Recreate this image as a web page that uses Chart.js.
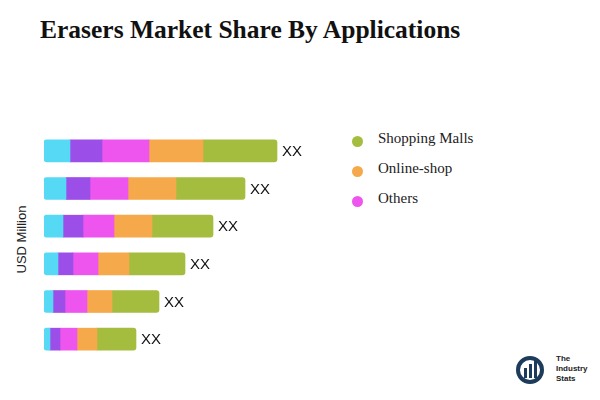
<!DOCTYPE html>
<html><head><meta charset="utf-8">
<script src="https://cdn.jsdelivr.net/npm/chart.js@4"></script>
<style>
body{margin:0;width:600px;height:400px;background:#fff;position:relative;font-family:"Liberation Serif",serif;overflow:hidden}
#title{position:absolute;left:40px;top:15px;font-size:25.5px;font-weight:bold;color:#111}
#yt{position:absolute;left:-14px;top:232px;transform:rotate(-90deg);font-family:"Liberation Sans",sans-serif;font-size:13px;color:#222;width:70px;text-align:center}
#cw{position:absolute;left:44px;top:132px;width:300px;height:226px}
.lg{position:absolute;left:352px;font-size:15px;color:#222}
.dot{position:absolute;left:0;top:6px;width:11px;height:11px;border-radius:50%}
.lg span{position:absolute;left:26px;top:0;white-space:nowrap}
#logo{position:absolute;left:516px;top:352px;font-family:"Liberation Sans",sans-serif;font-size:8px;font-weight:bold;line-height:10px;color:#222}
</style></head><body>
<div id="title">Erasers Market Share By Applications</div>
<div id="yt">USD Million</div>
<div id="cw"><canvas id="c"></canvas></div>
<div class="lg" style="top:130px"><div class="dot" style="background:#a4bd3f"></div><span>Shopping Malls</span></div>
<div class="lg" style="top:160px"><div class="dot" style="background:#f6a94a"></div><span>Online-shop</span></div>
<div class="lg" style="top:190px"><div class="dot" style="background:#ee55ee"></div><span>Others</span></div>
<div id="logo"><svg width="30" height="36" style="position:absolute;left:0;top:0"><circle cx="14" cy="18" r="12" fill="none" stroke="#1d3b5a" stroke-width="4"/><rect x="8" y="16" width="3" height="10" fill="#1d3b5a"/><rect x="13" y="12" width="3" height="14" fill="#1d3b5a"/><rect x="18" y="8" width="3" height="18" fill="#1d3b5a"/></svg><div style="position:absolute;left:40px;top:2px">The<br>Industry<br>Stats</div></div>
<script>
const categories=["A","B","C","D","E","F"];
const seriesNames=["S1","S2","Others","Online-shop","Shopping Malls"];
const colors=["#55d9f5","#9b4ee8","#ee55ee","#f6a94a","#a4bd3f"];
const s1=[26,22,19,14,9,6];
const s2=[32,24,20,15,12,10];
const others=[47,38,31,25,22,17];
const online=[54,48,38,31,25,20];
const malls=[74,69,61,56,47,39];
const valueLabels=["XX","XX","XX","XX","XX","XX"];
const all=[s1,s2,others,online,malls];
const endLabel={id:"endLabel",afterDatasetsDraw(ch){const m=ch.getDatasetMeta(4);const ctx=ch.ctx;ctx.save();ctx.font='15px "Liberation Sans",sans-serif';ctx.fillStyle="#111";ctx.textBaseline="middle";m.data.forEach((b,i)=>ctx.fillText(valueLabels[i],b.x+5,b.y+1));ctx.restore();}};
new Chart(document.getElementById("c"),{type:"bar",
data:{labels:categories,datasets:all.map((d,i)=>({label:seriesNames[i],data:d,backgroundColor:colors[i],barThickness:22,borderRadius:i==4?{topRight:3,bottomRight:3}:(i==0?{topLeft:3,bottomLeft:3}:0),borderSkipped:false}))},
options:{indexAxis:"y",responsive:true,maintainAspectRatio:false,animation:false,layout:{padding:0},
plugins:{legend:{display:false},tooltip:{enabled:false}},
scales:{x:{stacked:true,min:0,max:300,display:false},y:{stacked:true,display:false}}},
plugins:[endLabel]});
</script></body></html>
